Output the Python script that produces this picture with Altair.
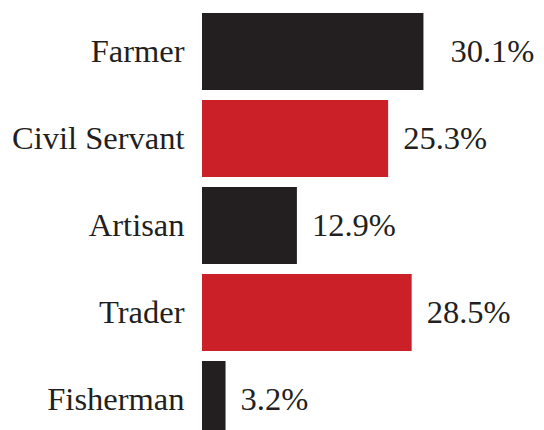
import altair as alt
import pandas as pd

occupations = ["Farmer", "Civil Servant", "Artisan", "Trader", "Fisherman"]
shares = [30.1, 25.3, 12.9, 28.5, 3.2]
bar_colors = ["#231f20", "#cb2027", "#231f20", "#cb2027", "#231f20"]

df = pd.DataFrame({"occupation": occupations, "share": shares})

FONT = "Liberation Serif"
INK = "#231f20"

y = alt.Y(
    "occupation:N",
    sort=occupations,
    title=None,
    scale=alt.Scale(paddingInner=10 / 87, paddingOuter=5 / 87),
    axis=alt.Axis(
        labelFont=FONT,
        labelFontSize=32.5,
        labelColor=INK,
        labelPadding=18,
        labelLimit=400,
        ticks=False,
        domain=False,
        grid=False,
    ),
)
x = alt.X("share:Q", scale=alt.Scale(domain=[0, 45.4], nice=False), axis=None)

base = alt.Chart(df).transform_calculate(
    label="format(datum.share, '.1f') + '%'"
)

bars = base.mark_bar().encode(
    y=y,
    x=x,
    color=alt.Color(
        "occupation:N",
        scale=alt.Scale(domain=occupations, range=bar_colors),
        legend=None,
    ),
)

text_first = base.transform_filter(
    alt.datum.occupation == occupations[0]
).mark_text(
    align="left", baseline="middle", dx=27, font=FONT, fontSize=32.5, color=INK
).encode(y=y, x=x, text="label:N")

text_rest = base.transform_filter(
    alt.datum.occupation != occupations[0]
).mark_text(
    align="left", baseline="middle", dx=15, font=FONT, fontSize=32.5, color=INK
).encode(y=y, x=x, text="label:N")

chart = (
    alt.layer(bars, text_first, text_rest)
    .properties(
        width=334,
        height=435,
        autosize=alt.AutoSizeParams(type="none"),
        padding={"left": 194, "top": 0, "right": 0, "bottom": 0},
    )
    .configure_view(stroke=None)
)

chart.save("out.html", embed_options={"renderer": "svg", "actions": False})
